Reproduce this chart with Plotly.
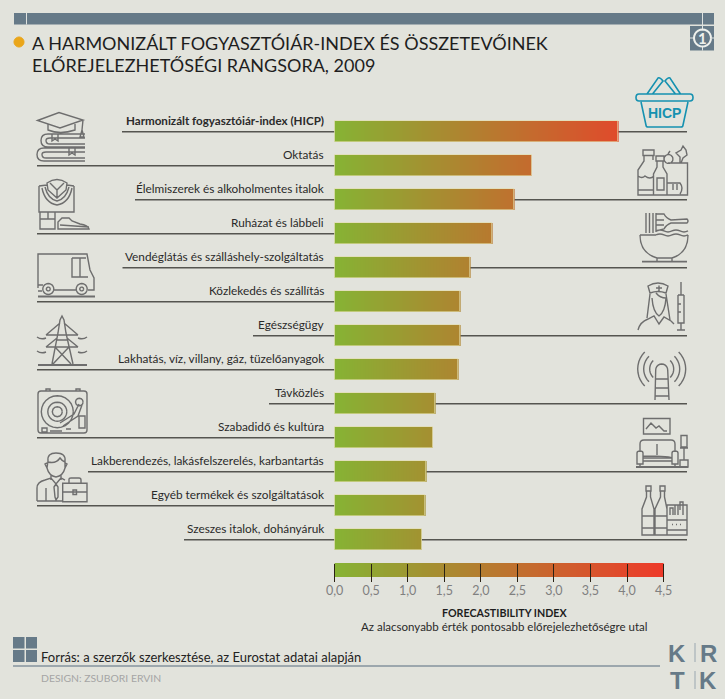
import re, math
import numpy as np
import plotly.graph_objects as go

categories = ["Harmonizált fogyasztóiár-index (HICP)", "Oktatás", "Élelmiszerek és alkoholmentes italok",
              "Ruházat és lábbeli", "Vendéglátás és szálláshely-szolgáltatás", "Közlekedés és szállítás",
              "Egészségügy", "Lakhatás, víz, villany, gáz, tüzelőanyagok", "Távközlés", "Szabadidő és kultúra",
              "Lakberendezés, lakásfelszerelés, karbantartás", "Egyéb termékek és szolgáltatások",
              "Szeszes italok, dohányáruk"]
values = [3.88, 2.70, 2.46, 2.155, 1.855, 1.72, 1.72, 1.69, 1.38, 1.34, 1.255, 1.24, 1.19]
tick_values = [0, 0.5, 1, 1.5, 2, 2.5, 3, 3.5, 4, 4.5]
title_lines = ["A HARMONIZÁLT FOGYASZTÓIÁR-INDEX ÉS ÖSSZETEVŐINEK", "ELŐREJELEZHETŐSÉGI RANGSORA, 2009"]
axis_title = "FORECASTIBILITY INDEX"
axis_note = "Az alacsonyabb érték pontosabb előrejelezhetőségre utal"
source = "Forrás: a szerzők szerkesztése, az Eurostat adatai alapján"
design = "DESIGN: ZSUBORI ERVIN"

W, H = 725, 699
X0, XS = 334.6, 73.1      # pixel of value 0, pixels per unit
Y0, YS = 131.7, 34.0      # pixel of row 0, pixels per row
BG = "#e2e3dc"
SLATE = "#667a88"
GREY = "#6e6e6e"
TEAL = "#1591b0"
LINE = "#555550"
FONT = "Lato"

def xv(px): return (px - X0) / XS
def yv(py): return (py - Y0) / YS

fig = go.Figure()

# gradient fill of the bars (colour follows the value axis)
def gradient(x_end, y_lo, y_hi):
    edges = np.append(np.arange(0, x_end, 0.02), x_end)
    mids = (edges[:-1] + edges[1:]) / 2
    fig.add_trace(go.Heatmap(x=edges, y=[y_lo, y_hi], z=[mids], zmin=0, zmax=4.5,
                             colorscale=[[0, "#86b334"], [1, "#ee3a2a"]], showscale=False,
                             hoverinfo="skip"))

HALF = 0.315
for i, v in enumerate(values):
    gradient(v, i - HALF, i + HALF)
gradient(4.5, yv(563), yv(577))

fig.add_trace(go.Bar(x=values, y=list(range(len(values))), orientation="h", width=2 * HALF,
                     marker=dict(color="rgba(0,0,0,0)", line=dict(color="rgba(226,222,170,0.6)", width=1)),
                     hovertemplate="%{x}<extra></extra>"))

shapes, annos = [], []

def ann(px, py, text, size, color="#222", anchor="left", font=FONT):
    annos.append(dict(xref="paper", yref="paper", x=px / W, y=1 - py / H, text=text, showarrow=False,
                      xanchor=anchor, yanchor="middle", align=anchor, borderpad=0,
                      font=dict(family=font, size=size, color=color)))

def to_paper(path):
    out, is_x = [], True
    for tok in re.findall(r"[MLCQZ]|-?\d+\.?\d*", path):
        if tok in "MLCQZ":
            out.append(tok)
        else:
            val = float(tok)
            out.append(f"{val / W:.5f}" if is_x else f"{1 - val / H:.5f}")
            is_x = not is_x
    return " ".join(out)

def arc(cx, cy, r, a0=0, a1=360, n=24):
    pts = []
    for k in range(n + 1):
        a = math.radians(a0 + (a1 - a0) * k / n)
        pts.append(f"{'M' if k == 0 else 'L'}{cx + r * math.cos(a):.2f} {cy + r * math.sin(a):.2f}")
    return " ".join(pts)

def rect(x0, y0, x1, y1):
    return f"M{x0} {y0} L{x1} {y0} L{x1} {y1} L{x0} {y1} Z"

def icon(path, color=GREY, width=1.4, fill=None):
    s = dict(type="path", xref="paper", yref="paper", path=to_paper(path), layer="below",
             line=dict(color=color, width=width))
    if fill:
        s["fillcolor"] = fill
    shapes.append(s)

def block(x0, y0, x1, y1, color, layer="below"):
    shapes.append(dict(type="rect", xref="paper", yref="paper", x0=x0 / W, x1=x1 / W, y0=1 - y0 / H, y1=1 - y1 / H,
                       fillcolor=color, line=dict(width=0), layer=layer))

# leader lines
left_start = [122, 37, 135, 37, 122.5, 37, 253, 37, 269, 37, 88, 37, 184]
for i, v in enumerate(values):
    shapes.append(dict(type="line", xref="x", yref="y", x0=xv(left_start[i]), x1=0, y0=i, y1=i, layer="below",
                       line=dict(color=LINE, width=1.5)))
    if i % 2 == 0:
        shapes.append(dict(type="line", xref="x", yref="y", x0=v, x1=xv(687), y0=i, y1=i, layer="below",
                           line=dict(color=LINE, width=1.5)))

# row labels
for i, c in enumerate(categories):
    txt = f"<b>{c}</b>" if i == 0 else c
    ann(324.5, Y0 + i * YS - 11.5, txt, 11.6 if i == 0 else 11.8, "#2a2a2a", "right")

# header
block(14, 13, 714, 24.5, SLATE)
block(26, 13, 27, 24.5, "#dfe3e0")
block(702, 13, 703, 50, "#dfe3e0", "below")
block(690, 26, 714, 50.5, SLATE)
block(702, 26, 703, 50.5, "#dfe3e0")
block(690, 37.5, 714, 38.5, "#dfe3e0")
icon(arc(702.5, 38, 8.5), "#eef0ec", 2, SLATE)
ann(702.5, 38, "<b>1</b>", 15, "#eef0ec", "center")
icon(arc(19, 42, 5), "#eaa61a", 1, "#eaa61a")
ann(31, 43, title_lines[0], 18, "#1e1e1e")
ann(31, 65, title_lines[1], 18, "#1e1e1e")

# axis captions
ann(505, 612.5, f"<b>{axis_title}</b>", 10.7, "#1e1e1e", "center")
ann(505, 626, axis_note, 11.5, "#2a2a2a", "center")

# footer
block(13, 637, 24.5, 648.5, SLATE); block(26, 637, 37, 648.5, SLATE)
block(13, 650, 24.5, 662, SLATE); block(26, 650, 37, 662, SLATE)
block(13, 665.3, 660, 666.7, "#84939e")
ann(40, 656.5, source, 13, "#222")
ann(40, 678, design, 10.4, "#a5a5a5")
ann(677, 653, "<b>K</b>", 24, SLATE, "center", "Liberation Sans")
ann(708, 653, "<b>R</b>", 24, SLATE, "center", "Liberation Sans")
ann(677, 680, "<b>T</b>", 24, SLATE, "center", "Liberation Sans")
ann(708, 680, "<b>K</b>", 24, SLATE, "center", "Liberation Sans")
block(694.5, 643, 695.5, 662, "#9aa7b0"); block(694.5, 671, 695.5, 689, "#9aa7b0")

# --- line icons ---
# books and graduation cap
icon("M37.5 120.5 L59 112.5 L83 120 L60 128 Z M48 124 L48 130 Q60 135 75 130 L75 124 M83 120 L82 130 "
     "M82 130 L84 137 L80 137 Z "
     "M85 134 L48 134 Q41 134 41 140.5 Q41 147 48 147 L85 147 M85 138 L50 138 Q46 138 46 140.5 Q46 144 50 144 L85 144 "
     "M52 134 L52 141 L55 139 L58 141 L58 134 "
     "M85 148 L44 148 Q37 148 37 154.5 Q37 161 44 161 L85 161 M85 152 L46 152 Q42 152 42 154.5 Q42 158 46 158 L85 158 "
     "M69 148 L69 155 L72 153 L75 155 L75 148")
# clothes and shoe
icon("M39 186 L39 212 L74 212 L74 186 M39 186 L47 185 M67 185 L74 186 "
     "M47 183 Q57 176 67 183 L66 190 L57 198 L48 190 Z M50 183 L57 190 L64 183 M57 190 L57 198 "
     "M42 188 Q45 203 57 205 Q69 203 72 188 M45 187 Q48 199 57 201 Q66 199 69 187 "
     "M40 212 L40 229 L55 229 L55 212 M40 219 L55 219 M48 212 L48 219 "
     "M58 229 L58 222 L62 218 L69 218 L72 221 L80 224 Q88 225 89 229 Z M60 225 L89 227")
# van
icon("M38 288 L38 254 L87 254 L90 270 L94 278 L94 290 L88 290 M54 290 L76 290 M38 285 L43 285 M38 291 L42 291 "
     "M72 258 L72 277 L88 277 M80 258 L80 277 M72 258 L86 258 " + arc(48.3, 289, 5.5) + " " + arc(81.7, 289, 5.5)
     + " " + arc(48.3, 289, 2, n=10) + " " + arc(81.7, 289, 2, n=10))
icon("M38 296.5 L95 296.5", width=2)
# pylon
icon("M52 364 L58 333 L60 320 L62 316 L64 320 L66 333 L73 364 M46 335 L60 323 M78 335 L64 323 M46 335 L78 335 "
     "M46 347 L57 338 M78 347 L67 338 M46 347 L78 347 M55 347 L71 364 M69 347 L53 364 M57 340 L67 340 "
     "M37 337 Q41 340 46 338 M78 338 Q83 340 87 337 M37 351 Q41 354 46 352 M78 352 Q83 354 87 351")
icon("M38 365 L87 365", width=2)
# turntable
icon("M41 391 L84 391 Q87 391 87 394 L87 430 Q87 433 84 433 L41 433 Q38 433 38 430 L38 394 Q38 391 41 391 Z "
     "M46 391 L46 389 L50 389 L50 391 M76 391 L76 389 L80 389 L80 391 "
     + arc(57.3, 411.7, 16) + " " + arc(57.3, 411.7, 9.5) + " " + arc(57.3, 411.7, 5, n=12) + " " + arc(79.3, 402, 3.8, n=12)
     + " M79 404 L74 414 L60 423 M82 405 L78 416 L63 426 " + rect(79, 416, 85, 428) + " " + rect(42, 428, 47, 432)
     + " M50 431 L62 431 M66 429 L71 429")
# businessman
icon("M48 461 Q47 453 56 453 Q66 453 65 461 L65 468 Q63 476 56 477 Q49 476 47 468 Z M48 462 Q56 464 60 458 Q62 461 65 462 "
     "M47 463 L45 464 L47 468 M65 463 L67 464 L65 468 M51 475 L51 480 M61 475 L61 480 "
     "M37 501 L37 488 Q37 482 45 480 L51 478 L56 484 L61 478 L65 480 M37 501 L62 501 M46 488 L46 501 "
     "M56 484 L54 487 L55 497 L56 500 L58 497 L58 487 Z")
icon(rect(62.7, 483.3, 87, 501.7) + " M62.7 492 L87 492 " + rect(73, 490, 76.5, 494.5)
     + " M69 483 L69 479 Q69 478 71 478 L79 478 Q81 478 81 480 L81 483")
# basket
icon("M639 94 L690 94 Q693 94 693 97.5 Q693 101 690 101 L639 101 Q636 101 636 97.5 Q636 94 639 94 Z "
     "M641 102 L646 125 Q646 127 648 127 L681 127 Q683 127 683 125 L688 102 "
     "M647 94 L658 78 Q660 77 663 81 L652.5 94 M680.5 94 L670 78 Q668 77 665 81 L675.5 94", TEAL, 1.6)
ann(664, 113, "<b>HICP</b>", 14, TEAL, "center", "Liberation Sans")
# groceries
icon(rect(643, 150, 654, 155.5) + " M644 155.5 L644 161 L638 170 L638 195 L687.5 195 L687.5 163 L668 163 "
     "M653 155.5 L653 160 M638 176 Q642 179 645 176 Q650 180 654 176 M638 190 L653 190 "
     + rect(656, 156, 664, 161) + " M657 161 L657 167 L653.5 174 L653.5 195 M663 161 L663 167 L667 174 L667 195 "
     + rect(657, 178, 664, 190) + " M667 183 L680 183 Q684 188 680 194 M673 184 L673 190 M677 184 L677 190 "
     + arc(668.5, 159, 4.5, n=14) + " M668 154 L670 151 M680 163 L680 157 L676 153 L681 150 L683 146 L686 150 L687 155 L683 158 L681 163")
# noodle bowl
icon("M646 213 L646 233 M649.5 213 L649.5 233 M653 213 L653 233 M656 213 L656 232 M656 214 L664 214 Q666 218 671 220 "
     "L687 219 Q689 221 687 223 L671 223 Q666 225 664 229 L656 231 M656 220 L664 220 M656 225 L664 225 "
     "M656 231 Q660 229 664 231 Q668 233 672 231 Q676 229 680 231 Q684 233 688 231 "
     "M656 235 Q660 233 664 235 Q668 237 672 235 Q676 233 680 235 Q684 237 688 235 "
     "M640 235 L656 235 M640 235 Q640 253 657 258 L672 258 Q688 253 688 235 M657 258 L657 262 M672 258 L672 262", width=1.4)
icon("M642 261.7 L687 261.7", width=1.8)
# nurse and syringe
icon("M648 286 Q658 280 668 286 L666 293 Q658 290 650 293 Z M656 288 L662 288 M659 285.5 L659 291 "
     "M650 294 L647 318 M666 294 L670 320 M652 298 Q653 312 659 316 Q665 312 666 298 Q660 298 656 293 "
     "M638 330 Q640 322 648 319 L654 316 L659 324 L664 317 L671 321 L674 324 "
     "M681 282 L681 295 M678 295 L684 295 M678 295 L678 323 L684 323 L684 295 M681 323 L681 330 M677 330 L685 330 M678 304 L681 304 M678 312 L681 312")
# mast and waves
icon(arc(661.7, 370, 6, 180, 360, 10) + " M655.7 370 L655 400 M667.7 370 L669 400 M656 379 L668 379 M655.5 388 L668.5 388 M655 396 L669 396 "
     + arc(661.7, 369, 12, 135, 225, 10) + " " + arc(661.7, 369, 18, 135, 225, 10) + " " + arc(661.7, 369, 24, 135, 225, 10)
     + " " + arc(661.7, 369, 12, -45, 45, 10) + " " + arc(661.7, 369, 18, -45, 45, 10) + " " + arc(661.7, 369, 24, -45, 45, 10), width=1.4)
# sofa and lamp
icon(rect(643.5, 418.5, 670, 434) + " M646 429 L651 423 L656 428 L659 426 L664 431 L667 431 "
     "M640 452 L640 444 Q640 440 644 440 L671 440 Q675 440 675 444 L675 452 M637 453 Q637 451 640 451 Q643 451 643 453 L643 464 "
     "L637 464 Z M672 453 Q672 451 675 451 Q678 451 678 453 L678 464 L672 464 Z M643 458 L672 458 Q672 456 643 456 M643 461 L672 461 "
     "M640 464 L640 467 M675 464 L675 467 M657 444 L657 455 "
     + rect(681, 435.5, 687, 447) + " M680 448 L688 448 M684 448 L684 460 M680 460 L688 460 L688 467 L680 467 Z")
icon("M636 467 L688 467", width=1.8)
# bottles and cigarettes
icon(rect(646, 486, 651, 491) + " M646.5 491 L646.5 497 L642 509 L642 535 L654 535 L654 509 L650.5 497 L650.5 491 "
     "M642 516 L654 516 M642 528 L654 528 "
     + rect(660, 486, 665, 491) + " M660.5 491 L660.5 497 L655 509 L655 535 L667 535 L667 509 L664.5 497 L664.5 491 "
     "M655 516 L667 516 M655 528 L667 528 "
     + rect(667, 505, 687, 535) + " M667 520 L687 520 M667 530 L687 530 M672 524.5 L673 524.5 M676 524.5 L677 524.5 M680 524.5 L681 524.5 "
     "M670 515 L670 508 L673 508 L673 515 M675 515 L675 505 L678 505 L678 515 M680 510 L680 502 L683 502 L683 515")

fig.update_layout(
    width=W, height=H, margin=dict(l=0, r=0, t=0, b=0, pad=0), autosize=False,
    paper_bgcolor=BG, plot_bgcolor=BG, showlegend=False, separators=", ",
    font=dict(family=FONT), shapes=shapes, annotations=annos, bargap=0,
    xaxis=dict(domain=[0, 1], range=[xv(0), xv(W)], tickvals=tick_values, tickformat=".1f",
               anchor="free", position=1 - 581.5 / H, ticks="inside", ticklen=18, tickwidth=1.3, tickcolor="#2a2214",
               showgrid=False, zeroline=False, showline=False, tickfont=dict(family=FONT, size=12.5, color="#808080")),
    yaxis=dict(domain=[0, 1], range=[yv(H), yv(0)], visible=False, showgrid=False, zeroline=False),
)
fig.write_html("out.html", config=dict(displayModeBar=False),
               post_script="document.body.style.margin='0';document.body.style.overflow='hidden';")
